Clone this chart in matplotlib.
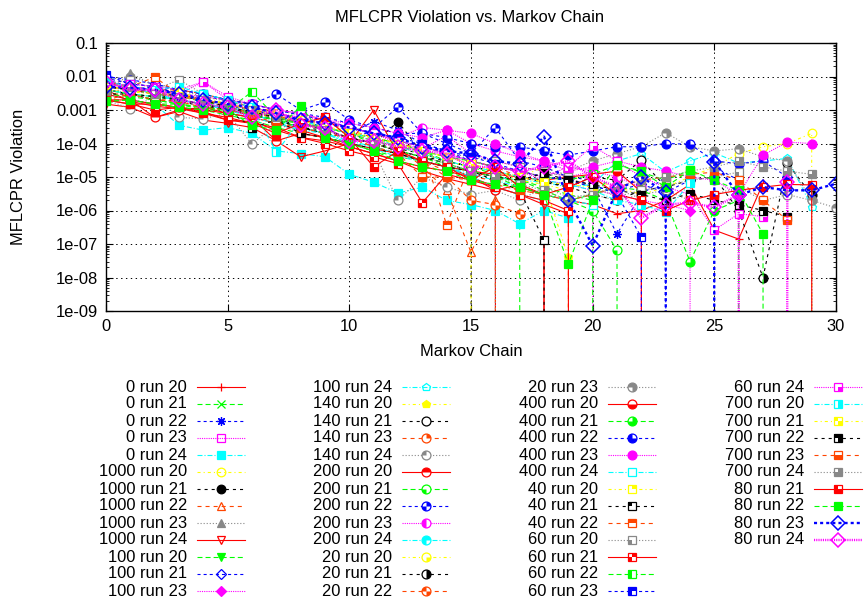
import matplotlib
matplotlib.use("Agg")
import matplotlib.pyplot as plt
from matplotlib.lines import Line2D
from matplotlib.path import Path
from matplotlib.ticker import LogLocator, NullFormatter

plt.rcParams['font.family'] = ['Liberation Sans', 'DejaVu Sans']
plt.rcParams['lines.scale_dashes'] = False

# ---------------- data (x = Markov chain index 0,1,2,...) ----------------
run_0_20 = [4e-3, 1.8e-3, 1.3e-3, 1.1e-3, 8e-4, 5e-4, 4.5e-4, 2.5e-4, 1.5e-4, 1.2e-4, 8e-5, 5e-5, 3e-5, 1.5e-5, 9e-6, 6e-6, 4e-6, 0, 3e-6, 2e-6, 1.5e-6, 8e-7, 1e-6, 2e-6, 6e-6, 2.6e-7, 1.4e-7, 6.5e-6]
run_0_21 = [6e-3, 5e-3, 3e-3, 2.5e-3, 1.8e-3, 1.2e-3, 9e-4, 6e-4, 4e-4, 3e-4, 2e-4, 1.2e-4, 8e-5, 6e-5, 3e-5, 2e-5, 1.2e-5, 6e-6, 0]
run_0_22 = [8e-3, 5e-3, 4e-3, 3e-3, 2e-3, 1.5e-3, 1e-3, 7e-4, 5e-4, 3e-4, 2e-4, 4.5e-4, 2.5e-4, 1e-4, 6e-5, 3e-5, 2e-5, 1.5e-5, 1e-5, 8e-6, 5e-6, 2e-7, 3e-6, 1e-5, 0, 2e-5, 8e-6]
run_0_23 = [5e-3, 4e-3, 3.5e-3, 3e-3, 7e-3, 2e-3, 1.2e-3, 8e-4, 6e-4, 4e-4, 3e-4, 2e-4, 1e-4, 7e-5, 1.7e-4, 5e-5, 3e-5, 2e-5, 1.5e-5, 1e-5, 1.5e-5, 0, 5e-6]
run_0_24 = [3e-3, 2e-3, 1.5e-3, 3.5e-4, 2.5e-4, 3e-4, 2e-4, 6e-5, 5e-5, 4e-5, 1.2e-5, 7e-6, 3.3e-6, 5e-6, 2e-6, 1.5e-6, 1e-6, 4e-7, 1e-6, 6e-7]
run_1000_20 = [5e-3, 4e-3, 3e-3, 2.5e-3, 2e-3, 1.5e-3, 1e-3, 7e-4, 4e-4, 3e-4, 2e-4, 1.5e-4, 1e-4, 6e-5, 4e-5, 2.5e-5, 1.5e-5, 1e-5, 2e-5, 1e-5, 8e-6, 5e-6, 3e-6, 5e-6, 1e-5, 2e-5, 5e-5, 8e-5, 1e-4, 2e-4, 0]
run_1000_21 = [4e-3, 3e-3, 2.5e-3, 2e-3, 1.5e-3, 1e-3, 8e-4, 5e-4, 3e-4, 2e-4, 1.5e-4, 1e-4, 4.5e-4, 5e-5, 3e-5, 2e-5, 0]
run_1000_22 = [6e-3, 5e-3, 4e-3, 4e-3, 3e-3, 2e-3, 1.2e-3, 9e-4, 5e-4, 4e-4, 2.5e-4, 1.5e-4, 8e-5, 2e-5, 4e-6, 5.6e-8, 2e-6, 0]
run_1000_23 = [3e-3, 1.3e-2, 5e-3, 3e-3, 2e-3, 1.5e-3, 1e-3, 6e-4, 4e-4, 3e-4, 2e-4, 1.2e-4, 5e-5, 3e-5, 2e-5, 1e-5, 5e-6, 0]
run_1000_24 = [1.5e-3, 1.2e-3, 6e-4, 9e-4, 5e-4, 4e-4, 3e-4, 1.2e-4, 4e-5, 6e-5, 1e-4, 1e-3, 5e-5, 3e-5, 2e-5, 1e-5, 5e-6, 3e-6, 1.5e-6, 8e-7]
run_100_20 = [2e-3, 2e-3, 1.5e-3, 1.5e-3, 1e-3, 7e-4, 5e-4, 3e-4, 2e-4, 1.5e-4, 1e-4, 6e-5, 4e-5, 3e-5, 2e-5, 1.5e-5, 1e-5, 8e-6, 5e-6, 3e-6, 2e-6, 0]
run_100_21 = [7e-3, 4e-3, 5e-3, 3e-3, 2e-3, 1.3e-3, 1e-3, 7e-4, 4e-4, 3e-4, 1.3e-4, 2.5e-4, 1.2e-4, 8e-5, 5e-5, 3e-5, 2e-5, 1.5e-5, 1e-5, 8e-6, 5e-6, 4e-6, 6e-6, 3.5e-6, 8e-6]
run_100_23 = [5e-3, 4.5e-3, 4e-3, 2.5e-3, 2e-3, 1.5e-3, 1.2e-3, 8e-4, 5e-4, 4e-4, 3e-4, 2e-4, 1.2e-4, 8e-5, 5e-5, 3e-5, 2e-5, 1.5e-5, 8e-6, 6e-6, 4e-6, 3e-6, 2e-6, 1.5e-6, 1e-6, 0]
run_100_24 = [6e-3, 5e-3, 3e-3, 2e-3, 1.5e-3, 1.2e-3, 8e-4, 4e-4, 3e-4, 2e-4, 1e-4, 8e-5, 5e-5, 3e-5, 2e-5, 1.5e-5, 1e-5, 8e-6, 7e-6, 5e-6, 6e-6, 3e-5, 5e-5, 1.4e-5, 3e-5, 5.3e-5, 2.6e-5, 3e-5, 3.6e-5, 1.3e-6]
run_140_20 = [4e-3, 3.5e-3, 3e-3, 3e-3, 2.5e-3, 1.5e-3, 1e-3, 6e-4, 5e-4, 3e-4, 2.5e-4, 1.5e-4, 1e-4, 6e-5, 4e-5, 2.5e-5, 1.5e-5, 1e-5, 7e-6, 4e-8, 0]
run_140_21 = [5e-3, 4e-3, 3e-3, 2e-3, 1.5e-3, 1.2e-3, 8e-4, 6e-4, 4e-4, 2.5e-4, 1.5e-4, 1e-4, 7e-5, 5e-5, 3e-5, 2e-5, 1.5e-5, 1e-5, 7e-6, 5e-6, 1e-5, 8e-6, 3.2e-5, 5e-6]
run_140_23 = [3e-3, 3e-3, 2e-3, 2e-3, 1.5e-3, 1e-3, 7e-4, 5e-4, 3e-4, 2e-4, 1.5e-4, 8e-5, 5e-5, 3e-5, 1.5e-5, 1e-5, 8e-6, 4e-6, 3e-6, 2e-6, 0]
run_140_24 = [2e-3, 1.1e-3, 2.5e-3, 6e-4, 5.5e-4, 8e-4, 9.5e-5, 4e-4, 2e-4, 1.5e-4, 1e-4, 6e-5, 2e-6, 1e-5, 5e-6, 3e-6, 4e-6, 2e-6, 5e-6, 2.5e-6, 3e-6, 2e-6, 3e-6, 4e-6, 2e-6, 3e-6, 5e-6, 2e-6, 3e-6, 2e-6, 1.2e-6]
run_200_20 = [3e-3, 2e-3, 6e-4, 1e-3, 1.2e-3, 8e-4, 6e-4, 1.2e-4, 2e-4, 1.5e-4, 8e-5, 5e-5, 3e-5, 2e-5, 1.5e-5, 1e-5, 4e-6, 6e-6, 3e-6, 0]
run_200_21 = [4e-3, 3e-3, 2e-3, 1.5e-3, 1.2e-3, 1e-3, 8e-4, 5e-4, 3e-4, 2e-4, 1.5e-4, 1e-4, 6e-5, 4e-5, 2e-5, 1.5e-5, 1e-5, 8e-6, 4e-6, 2e-6, 1e-6, 6.5e-8, 0]
run_200_22 = [9e-3, 6e-3, 5e-3, 3e-3, 2.5e-3, 2e-3, 1.5e-3, 3e-3, 1e-3, 1.7e-3, 5e-4, 3e-4, 1.2e-3, 2e-4, 1e-4, 5e-5, 3e-4, 3e-5, 2e-5, 1e-5, 8e-6]
run_200_23 = [6e-3, 5e-3, 4e-3, 3e-3, 2e-3, 1.5e-3, 1e-3, 8e-4, 6e-4, 5e-4, 3e-4, 2e-4, 1.5e-4, 3e-4, 2.5e-4, 1e-4, 6e-5, 4e-5, 3e-5, 2e-5, 1.5e-5, 1e-5, 5e-6, 0]
run_200_24 = [5e-3, 4e-3, 3e-3, 2e-3, 1.5e-3, 1e-3, 7e-4, 5e-4, 3e-4, 2e-4, 1e-4, 7e-5, 4e-5, 3e-5, 2e-5, 1e-5, 5e-6, 3e-6, 2e-6]
run_20_20 = [5e-3, 4e-3, 3.5e-3, 2.5e-3, 2e-3, 1.5e-3, 1.2e-3, 7e-4, 4e-4, 3e-4, 2e-4, 1.5e-4, 8e-5, 5e-5, 3e-5, 2e-5, 0]
run_20_21 = [4e-3, 3e-3, 2e-3, 1.8e-3, 1.3e-3, 1e-3, 7e-4, 5e-4, 3e-4, 2e-4, 1.5e-4, 1e-4, 6e-5, 4e-5, 3e-5, 2e-5, 1.5e-5, 1e-5, 8e-6, 5e-6, 3e-6, 2e-6, 4e-6, 5e-6, 8e-6, 1e-5, 1e-6, 1e-8, 2.6e-5, 2.9e-6]
run_20_22 = [5e-3, 4e-3, 3e-3, 2.5e-3, 2e-3, 1.2e-3, 8e-4, 6e-4, 4e-4, 2.5e-4, 1.5e-4, 1e-4, 6e-5, 3e-5, 1e-5, 2e-6, 1.5e-6, 8e-7]
run_20_23 = [8e-3, 1e-2, 6e-3, 4e-3, 2.5e-3, 1.8e-3, 1.2e-3, 8e-4, 5e-4, 3e-4, 2e-4, 1.5e-4, 1e-4, 6e-5, 4e-5, 3e-5, 2e-5, 1.5e-5, 1e-5, 1.5e-5, 3e-5, 5e-5, 8e-5, 2.1e-4, 8e-5, 6e-5, 7e-5, 4e-5, 3e-5, 2e-6, 0]
run_400_20 = [2e-3, 2e-3, 1.5e-3, 1.2e-3, 1e-3, 8e-4, 6e-4, 4e-4, 2.5e-4, 1.5e-4, 1e-4, 7e-5, 5e-5, 3e-5, 2e-5, 1.5e-5, 1.2e-5, 1e-5, 8e-6, 1e-5, 1.2e-5, 1.5e-5, 3.6e-6, 0]
run_400_21 = [4e-3, 3e-3, 2.5e-3, 2e-3, 1.5e-3, 1e-3, 7e-4, 5e-4, 4e-4, 3e-4, 2e-4, 1e-4, 6e-5, 4e-5, 2.5e-5, 1.5e-5, 1e-5, 5e-6, 3e-6, 2e-6, 3e-6, 5e-6, 4e-6, 2e-6, 3e-8, 1e-6, 2e-6, 0]
run_400_22 = [1e-2, 8e-3, 6e-3, 4e-3, 3e-3, 2e-3, 1.5e-3, 1e-3, 8e-4, 6e-4, 4e-4, 3e-4, 2e-4, 2e-4, 1.5e-4, 1e-4, 8e-5, 8e-5, 6e-5, 4.5e-5, 6e-5, 8e-5, 8e-5, 1e-4, 9.5e-5, 3e-5, 2.5e-5, 3e-5, 1e-5]
run_400_23 = [7e-3, 5e-3, 4e-3, 3e-3, 2.5e-3, 2e-3, 1.5e-3, 1e-3, 8e-4, 5e-4, 4e-4, 3e-4, 2e-4, 1.5e-4, 2.5e-4, 2e-4, 1e-4, 5e-5, 3e-5, 1.5e-5, 2e-5, 3e-5, 2e-5, 1.5e-5, 1e-5, 8e-6, 3e-6, 4.5e-5, 1.1e-4, 1e-4]
run_400_24 = [4e-3, 3e-3, 2.5e-3, 2e-3, 1.5e-3, 1e-3, 6e-4, 4e-4, 2.5e-4, 2e-4, 1.2e-4, 8e-5, 5e-5, 3e-5, 2e-5, 1.2e-5, 8e-6, 5e-6, 3e-6, 2e-6, 1.5e-6]
run_40_20 = [6e-3, 5e-3, 4e-3, 3e-3, 2e-3, 1.5e-3, 1e-3, 7e-4, 5e-4, 3e-4, 2e-4, 1.5e-4, 8e-5, 5e-5, 3e-5, 2e-5, 1.5e-5, 8e-6, 6e-6, 4e-6]
run_40_21 = [5e-3, 4e-3, 3.5e-3, 2.5e-3, 2e-3, 1.2e-3, 9e-4, 6e-4, 3e-4, 2.5e-4, 1.5e-4, 1e-4, 6e-5, 4e-5, 2.5e-5, 1.5e-5, 8e-6, 4e-6, 1.3e-7, 0]
run_40_22 = [7e-3, 5e-3, 9.5e-3, 3e-3, 2e-3, 1.5e-3, 1e-3, 7e-4, 4e-4, 3e-4, 2e-4, 1.5e-4, 1e-4, 7e-5, 3.7e-7, 3e-5, 2e-5, 1e-5]
run_60_20 = [6e-3, 8e-3, 4e-3, 8e-3, 3e-3, 2e-3, 1.5e-3, 1e-3, 7e-4, 5e-4, 3e-4, 2e-4, 1.2e-4, 8e-5, 5e-5, 4e-5, 3e-5, 2e-5, 1.5e-5, 1e-5, 5e-6, 2.6e-6, 4e-6, 5.4e-6, 8e-6, 1e-5, 1.4e-5]
run_60_21 = [2e-3, 1.5e-3, 1.5e-3, 1.2e-3, 8e-4, 6e-4, 4e-4, 3e-4, 1.5e-4, 1e-4, 6e-5, 4e-5, 2.5e-5, 1.7e-6, 1.2e-5, 8e-6, 5e-6, 3e-6, 2e-6, 1e-6, 0]
run_60_22 = [3e-3, 2.5e-3, 2e-3, 1.5e-3, 1.2e-3, 1e-3, 3.5e-3, 6e-4, 4e-4, 3e-4, 2e-4, 1.5e-4, 1e-4, 6e-5, 4e-5, 3e-5, 2e-5, 1.5e-5, 1e-5, 8e-6, 1.2e-5, 2.3e-5, 1.4e-5, 8e-6, 1.6e-5]
run_60_23 = [1.1e-2, 6e-3, 5e-3, 4e-3, 3e-3, 2e-3, 1.5e-3, 1e-3, 7e-4, 5e-4, 3e-4, 2e-4, 1.5e-4, 1e-4, 6e-5, 4e-5, 2.5e-5, 1.5e-5, 1e-5, 8e-6, 6e-6, 3e-6, 1.6e-7, 0]
run_60_24 = [5e-3, 6e-3, 5e-3, 4e-3, 7e-3, 2.5e-3, 1.5e-3, 1e-3, 8e-4, 5e-4, 3e-4, 2e-4, 1.2e-4, 8e-5, 5e-5, 3e-5, 2e-5, 1.5e-5, 1e-5, 2e-5, 8.5e-5, 3e-5, 1e-5, 5e-6, 3e-6, 2.6e-7, 8e-7, 6.6e-7]
run_700_20 = [7e-3, 5e-3, 4e-3, 5e-3, 3e-3, 2e-3, 1.2e-3, 5.5e-5, 5e-4, 3e-4, 2e-4, 1.5e-4, 8e-5, 5e-5, 3e-5, 2e-5, 1.5e-5, 1e-5, 8e-6, 6e-6, 4e-6, 2e-6, 1.5e-6, 9e-7, 6.5e-6]
run_700_21 = [5e-3, 4e-3, 3e-3, 3.5e-3, 2e-3, 1.5e-3, 1e-3, 8e-4, 5e-4, 3.5e-4, 2e-4, 1.5e-4, 1e-4, 6e-5, 4e-5, 2.5e-5, 1.5e-5, 1e-5, 7e-6, 6e-6, 5e-6]
run_700_22 = [3e-3, 3e-3, 2.5e-3, 2e-3, 1.5e-3, 1e-3, 3e-4, 5e-4, 2e-4, 1.5e-4, 1e-4, 7e-5, 5e-5, 3e-5, 2e-5, 1.5e-5, 1e-5, 8e-6, 1.3e-5, 8e-6, 6e-6, 4e-6, 3e-6, 2e-6, 3.2e-6, 2e-6, 1.5e-6, 1e-6, 6.6e-7]
run_700_23 = [2e-3, 3e-3, 2e-3, 1.8e-3, 1.2e-3, 1e-3, 7e-4, 4e-4, 3e-4, 2e-4, 1.5e-4, 8e-5, 5e-5, 1e-5, 1e-5, 8e-6, 6e-6, 4e-6, 3e-6, 2e-6, 3e-6, 5e-6, 8e-6, 1e-5, 1.2e-5, 1.4e-5, 8e-6, 2e-6, 5.2e-7]
run_700_24 = [3e-3, 5e-3, 3e-3, 2.5e-3, 2e-3, 1.5e-3, 1e-3, 6e-4, 4e-4, 2.5e-4, 1.5e-4, 1e-4, 6e-5, 4e-5, 2.5e-5, 1.5e-5, 1e-5, 6e-6, 4e-6, 2e-6, 3e-6, 5e-6, 8e-6, 1e-5, 1.5e-5, 2e-5, 3e-5, 2e-5, 1.5e-5, 1.2e-5, 0]
run_80_21 = [2e-3, 1.5e-3, 1e-3, 1.2e-3, 9e-4, 5e-4, 4e-4, 2e-4, 4e-4, 6e-4, 1.5e-4, 2e-5, 6e-5, 3e-5, 2e-5, 8e-6, 2e-5, 5e-6, 3e-6, 5e-6, 1e-5, 3e-6, 2e-6, 1e-6, 2e-6, 3e-6, 4e-6, 5e-6, 6e-6, 5.8e-6, 0]
run_80_22 = [1.8e-3, 2e-3, 1.5e-3, 1.2e-3, 1e-3, 1e-3, 3.5e-4, 2.5e-4, 1.3e-3, 1.5e-4, 1e-4, 6e-5, 3e-5, 2e-5, 1.5e-5, 8e-6, 6e-6, 5e-6, 3e-6, 2.5e-8, 2e-6, 2.3e-5, 1.5e-5, 5e-6, 1.6e-5, 8e-6, 4e-6, 2e-7, 0]
run_80_23 = [5e-3, 4.5e-3, 4e-3, 3e-3, 2e-3, 1.5e-3, 1.2e-3, 8e-4, 5e-4, 4e-4, 3e-4, 2e-4, 1.5e-4, 8e-5, 6e-5, 5e-5, 3e-5, 2.5e-5, 1.6e-4, 2.1e-6, 9e-8, 4e-6, 1e-5, 3.5e-6, 0, 2.9e-5, 2.9e-6, 5e-6, 4e-6, 4e-6, 6.3e-6]
run_80_24 = [7e-3, 4e-3, 4e-3, 2e-3, 1.5e-3, 1.2e-3, 6e-4, 1e-3, 3.5e-4, 3e-4, 1.2e-4, 1.2e-4, 8e-5, 6e-5, 5e-5, 2e-5, 2e-5, 1.5e-5, 2e-5, 3e-5, 1e-5, 5e-6, 6e-7, 1.5e-6, 1.7e-6, 1.25e-6, 3e-6, 0, 7e-6]

series_labels = [
    "0 run 20", "0 run 21", "0 run 22", "0 run 23", "0 run 24",
    "1000 run 20", "1000 run 21", "1000 run 22", "1000 run 23", "1000 run 24",
    "100 run 20", "100 run 21", "100 run 23", "100 run 24",
    "140 run 20", "140 run 21", "140 run 23", "140 run 24",
    "200 run 20", "200 run 21", "200 run 22", "200 run 23", "200 run 24",
    "20 run 20", "20 run 21", "20 run 22", "20 run 23",
    "400 run 20", "400 run 21", "400 run 22", "400 run 23", "400 run 24",
    "40 run 20", "40 run 21", "40 run 22",
    "60 run 20", "60 run 21", "60 run 22", "60 run 23", "60 run 24",
    "700 run 20", "700 run 21", "700 run 22", "700 run 23", "700 run 24",
    "80 run 21", "80 run 22", "80 run 23", "80 run 24",
]
series_values = [
    run_0_20, run_0_21, run_0_22, run_0_23, run_0_24,
    run_1000_20, run_1000_21, run_1000_22, run_1000_23, run_1000_24,
    run_100_20, run_100_21, run_100_23, run_100_24,
    run_140_20, run_140_21, run_140_23, run_140_24,
    run_200_20, run_200_21, run_200_22, run_200_23, run_200_24,
    run_20_20, run_20_21, run_20_22, run_20_23,
    run_400_20, run_400_21, run_400_22, run_400_23, run_400_24,
    run_40_20, run_40_21, run_40_22,
    run_60_20, run_60_21, run_60_22, run_60_23, run_60_24,
    run_700_20, run_700_21, run_700_22, run_700_23, run_700_24,
    run_80_21, run_80_22, run_80_23, run_80_24,
]

y_ticks = [1e-9, 1e-8, 1e-7, 1e-6, 1e-5, 1e-4, 1e-3, 1e-2, 1e-1]
y_tick_labels = ["1e-09", "1e-08", "1e-07", "1e-06", "1e-05", "1e-04", "0.001", "0.01", "0.1"]
x_ticks = [0, 5, 10, 15, 20, 25, 30]

# ---------------- styles (gnuplot-like line / point types) ----------------
colors = ['#ff0000', '#00ff00', '#0000ff', '#ff00ff', '#00ffff',
          '#ffff00', '#000000', '#ff4500', '#888888']
dashes = ['-', (0, (3.6, 2.2)), (0, (2.2, 2.2)), (0, (0.8, 0.8)),
          (0, (3.6, 1.4, 0.8, 1.4)), (0, (2.2, 2.2, 0.8, 2.2)),
          (0, (2.2, 2.9)), (0, (2.9, 2.9)), (0, (0.8, 1.4))]

# quadrant shapes for partially filled circles / squares (bit1=UR, 2=UL, 4=LL, 8=LR)
circle_quads = [Path.wedge(0, 90), Path.wedge(90, 180), Path.wedge(180, 270), Path.wedge(270, 360)]
square_quads = [Path([(0, 0), (1, 0), (1, 1), (0, 1), (0, 0)], closed=True),
                Path([(0, 0), (0, 1), (-1, 1), (-1, 0), (0, 0)], closed=True),
                Path([(0, 0), (-1, 0), (-1, -1), (0, -1), (0, 0)], closed=True),
                Path([(0, 0), (0, -1), (1, -1), (1, 0), (0, 0)], closed=True)]


def quad_marker(shape_quads, k):
    parts = [shape_quads[b] for b in range(4) if k & (1 << b)]
    # add invisible extent anchors so the marker is not rescaled
    return Path.make_compound_path(*parts)


def style_for(i):
    color = colors[i % 9]
    ls = dashes[i % 9]
    lw = 0.8
    ms = 6.2
    mew = 0.9
    mfc = color
    overlay = None
    pt = i + 1
    if pt == 1:
        mk = '+'
    elif pt == 2:
        mk = 'x'
    elif pt == 3:
        mk = (8, 2, 0)
    elif pt <= 15:
        shapes = {4: 's', 5: 's', 6: 'o', 7: 'o', 8: '^', 9: '^', 10: 'v', 11: 'v',
                  12: 'D', 13: 'D', 14: 'p', 15: 'p'}
        mk = shapes[pt]
        if pt % 2 == 0:
            mfc = 'none'
        if mk == 'D':
            ms = 5.2
    elif pt <= 47:
        circ = pt <= 31
        mk = 'o' if circ else 's'
        k = (pt - 16) if circ else (pt - 32)
        if circ:
            ms = 6.4
        else:
            ms = 5.8
        if k == 15:
            mfc = color
        else:
            mfc = 'white'
            if k > 0:
                overlay = quad_marker(circle_quads if circ else square_quads, k)
    else:
        mk = 'D'
        mfc = 'none'
        lw = 1.7
        ms = 7
        mew = 1.1
    return dict(color=color, linestyle=ls, linewidth=lw, marker=mk,
                markersize=ms, markeredgewidth=mew, markerfacecolor=mfc,
                markeredgecolor=color), overlay


fig = plt.figure(figsize=(8.64, 5.99), dpi=100)
ax = fig.add_axes([106 / 864, 1 - 311 / 599, 730 / 864, 268 / 599])
ax.set_yscale('log', nonpositive='clip')

for i, (lab, vals) in enumerate(zip(series_labels, series_values)):
    xs = list(range(len(vals)))
    st, overlay = style_for(i)
    ax.plot(xs, vals, **st)
    if overlay is not None:
        ax.plot(xs, vals, linestyle='none', marker=overlay,
                markersize=st['markersize'], markeredgewidth=0,
                markerfacecolor=st['color'])

ax.set_xlim(0, 30)
ax.set_ylim(1e-9, 0.1)
ax.set_xticks(x_ticks)
ax.set_xticklabels([str(t) for t in x_ticks])
ax.set_yticks(y_ticks)
ax.set_yticklabels(y_tick_labels)
ax.yaxis.set_minor_locator(LogLocator(base=10, subs=[2, 3, 4, 5, 6, 7, 8, 9], numticks=20))
ax.yaxis.set_minor_formatter(NullFormatter())
ax.tick_params(which='both', direction='in', top=True, right=True, labelsize=11.9)
ax.tick_params(which='major', length=5, width=0.8)
ax.tick_params(which='minor', length=2.5, width=0.6)
ax.tick_params(axis='y', pad=6)
ax.tick_params(axis='x', pad=6)
ax.grid(True, which='major', color='black', linestyle=(0, (1, 2.5)), linewidth=0.7)
for sp in ax.spines.values():
    sp.set_linewidth(1.0)

fig.text(470 / 864, 1 - 17 / 599, "MFLCPR Violation vs. Markov Chain",
         ha='center', va='center', fontsize=11.9)
fig.text(471 / 864, 1 - 352 / 599, "Markov Chain", ha='center', va='center', fontsize=11.9)
fig.text(19 / 864, 1 - 177 / 599, "MFLCPR Violation", ha='center', va='center',
         rotation=90, fontsize=11.9)

# ---------------- legend (gnuplot-style key below the plot) ----------------
col_right = [187, 392, 598, 804]
rows_per_col = 13
for i, lab in enumerate(series_labels):
    c = i // rows_per_col
    r = i % rows_per_col
    ypx = 387 + 17 * r
    yf = 1 - ypx / 599
    xr = col_right[c]
    fig.text(xr / 864, yf, lab, ha='right', va='center', fontsize=11.9)
    st, overlay = style_for(i)
    line = Line2D([(xr + 10) / 864, (xr + 58) / 864], [yf, yf],
                  transform=fig.transFigure,
                  color=st['color'], linestyle=st['linestyle'], linewidth=st['linewidth'])
    fig.add_artist(line)
    mk = Line2D([(xr + 34) / 864], [yf], transform=fig.transFigure, linestyle='none',
                marker=st['marker'], markersize=st['markersize'],
                markeredgewidth=st['markeredgewidth'],
                markerfacecolor=st['markerfacecolor'], markeredgecolor=st['color'])
    fig.add_artist(mk)
    if overlay is not None:
        ov = Line2D([(xr + 34) / 864], [yf], transform=fig.transFigure, linestyle='none',
                    marker=overlay, markersize=st['markersize'], markeredgewidth=0,
                    markerfacecolor=st['color'])
        fig.add_artist(ov)

fig.savefig("out.png", dpi=100)
